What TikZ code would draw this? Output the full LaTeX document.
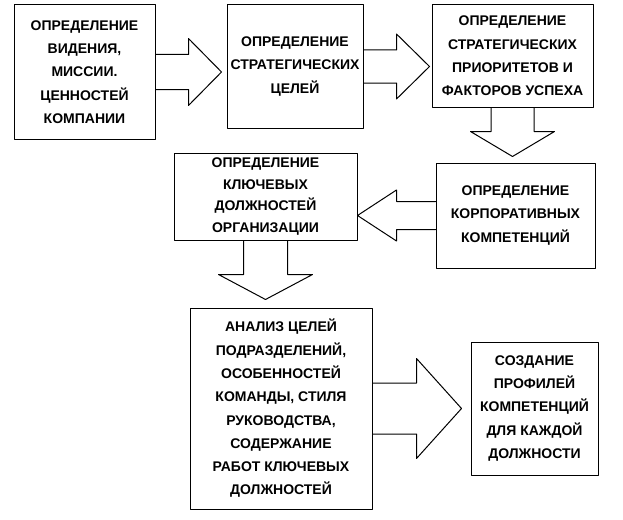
\documentclass[tikz,border=0pt]{standalone}
\usepackage{fontspec}
\setmainfont{Liberation Sans}
\usetikzlibrary{calc}

\begin{document}
\begin{tikzpicture}[x=1pt, y=1pt, line cap=round, line join=round,
    box/.style={draw, line width=1pt, align=center, inner sep=0pt,
      font=\bfseries\fontsize{14}{23.3}\selectfont},
    blockarrow/.style={draw, line width=1pt}]
\useasboundingbox (0,0) rectangle (623,-519);

% boxes
\node[box, minimum width=141pt, minimum height=134pt] (vision) at (84.5,-72)
  {ОПРЕДЕЛЕНИЕ\\ВИДЕНИЯ,\\МИССИИ.\\ЦЕННОСТЕЙ\\КОМПАНИИ};
\node[box, minimum width=136pt, minimum height=123pt] (goals) at (295,-66.5)
  {ОПРЕДЕЛЕНИЕ\\СТРАТЕГИЧЕСКИХ\\ЦЕЛЕЙ};
\node[box, minimum width=161pt, minimum height=102pt] (priorities) at (512.5,-56)
  {ОПРЕДЕЛЕНИЕ\\СТРАТЕГИЧЕСКИХ\\ПРИОРИТЕТОВ И\\ФАКТОРОВ УСПЕХА};
\node[box, minimum width=159pt, minimum height=105pt] (corp) at (515.5,-215.5)
  {ОПРЕДЕЛЕНИЕ\\КОРПОРАТИВНЫХ\\КОМПЕТЕНЦИЙ};
\node[box, minimum width=183pt, minimum height=87pt,
  font=\bfseries\fontsize{14}{21.6}\selectfont] (posts) at (265.5,-196.5)
  {ОПРЕДЕЛЕНИЕ\\КЛЮЧЕВЫХ\\ДОЛЖНОСТЕЙ\\ОРГАНИЗАЦИИ};
\node[box, minimum width=182pt, minimum height=201pt] (analysis) at (281,-408.5)
  {АНАЛИЗ ЦЕЛЕЙ\\ПОДРАЗДЕЛЕНИЙ,\\ОСОБЕННОСТЕЙ\\КОМАНДЫ, СТИЛЯ\\РУКОВОДСТВА,\\СОДЕРЖАНИЕ\\РАБОТ КЛЮЧЕВЫХ\\ДОЛЖНОСТЕЙ};
\node[box, minimum width=127pt, minimum height=133pt] (profiles) at (534.5,-408.5)
  {СОЗДАНИЕ\\ПРОФИЛЕЙ\\КОМПЕТЕНЦИЙ\\ДЛЯ КАЖДОЙ\\ДОЛЖНОСТИ};

% block arrows
\draw[blockarrow] let \p1=(vision.east), \p2=(goals.west) in
  (\x1,\y1+17.5) -- (\x2-38,\y1+17.5) -- (\x2-38,\y1+33.5) -- (\x2-5,\y1)
  -- (\x2-38,\y1-33.5) -- (\x2-38,\y1-17.5) -- (\x1,\y1-17.5);
\draw[blockarrow] let \p1=(goals.east), \p2=(priorities.west) in
  (\x1,\y1+16.5) -- (\x2-35,\y1+16.5) -- (\x2-35,\y1+32.5) -- (\x2-2,\y1)
  -- (\x2-35,\y1-32.5) -- (\x2-35,\y1-16.5) -- (\x1,\y1-16.5);
\draw[blockarrow] let \p1=(priorities.south), \p2=(corp.north) in
  (\x1-21.5,\y1) -- (\x1-21.5,\y2+31) -- (\x1-42,\y2+31) -- (\x1,\y2+6)
  -- (\x1+42,\y2+31) -- (\x1+21.5,\y2+31) -- (\x1+21.5,\y1);
\draw[blockarrow] let \p1=(corp.west), \p2=(posts.east) in
  (\x1,\y1+14) -- (\x2+39,\y1+14) -- (\x2+39,\y1+25.5) -- (\x2,\y1)
  -- (\x2+39,\y1-25.5) -- (\x2+39,\y1-14) -- (\x1,\y1-14);
\draw[blockarrow] let \p1=(posts.south), \p2=(analysis.north) in
  (\x1-22,\y1) -- (\x1-22,\y2+33) -- (\x1-47,\y2+33) -- (\x1,\y2+8)
  -- (\x1+47,\y2+33) -- (\x1+22,\y2+33) -- (\x1+22,\y1);
\draw[blockarrow] let \p1=(analysis.east), \p2=(profiles.west) in
  (\x1,\y1+25.5) -- (\x2-54,\y1+25.5) -- (\x2-54,\y1+50) -- (\x2-9,\y1)
  -- (\x2-54,\y1-50) -- (\x2-54,\y1-25.5) -- (\x1,\y1-25.5);
\end{tikzpicture}
\end{document}
